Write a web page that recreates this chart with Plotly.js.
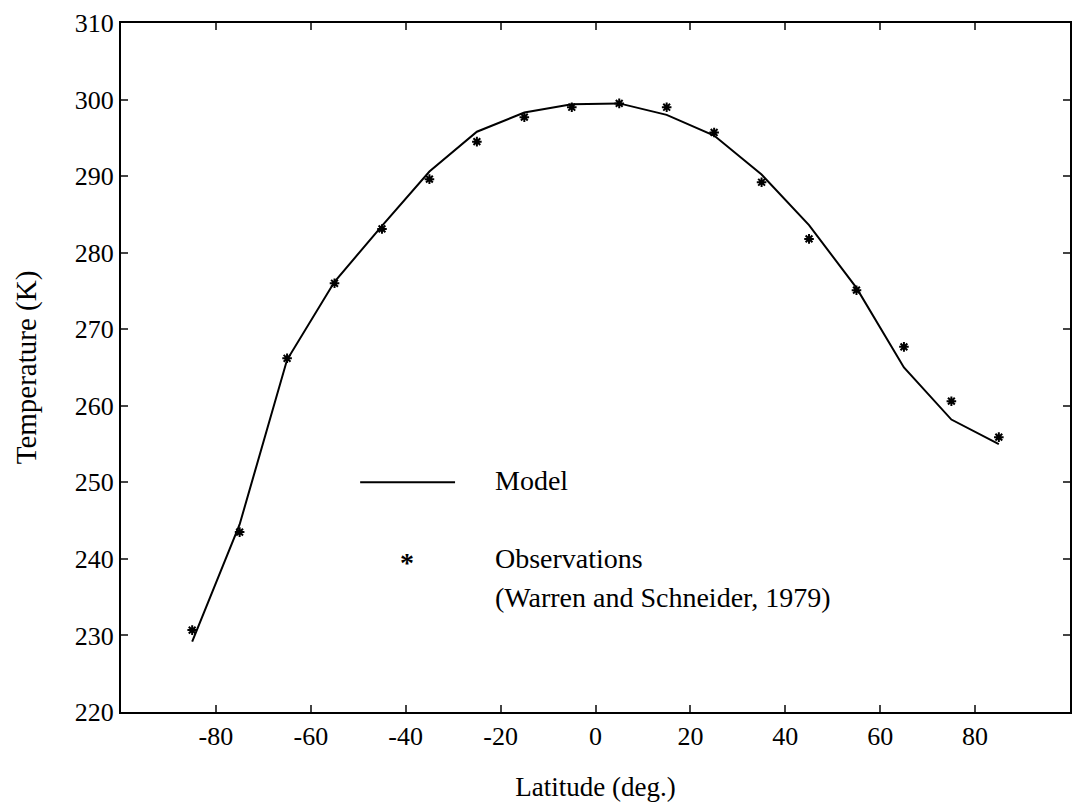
<!DOCTYPE html>
<html>
<head>
<meta charset="utf-8">
<script src="https://cdn.plot.ly/plotly-3.0.1.min.js"></script>
<style>html,body{margin:0;padding:0;background:#fff;}#chart{width:1072px;height:807px;}</style>
</head>
<body>
<div id="chart"></div>
<script>
// Latitudes (deg.)
const latitudes = [-85, -75, -65, -55, -45, -35, -25, -15, -5, 5, 15, 25, 35, 45, 55, 65, 75, 85];
// Model temperature (K)
const modelTemp = [229.2, 244.5, 266.0, 276.2, 283.5, 290.6, 295.8, 298.3, 299.4, 299.5, 298.0, 295.3, 290.2, 283.6, 275.4, 265.0, 258.2, 255.0];
// Observed temperature (K), Warren and Schneider (1979)
const obsTemp = [230.7, 243.5, 266.2, 276.0, 283.1, 289.6, 294.5, 297.7, 299.0, 299.5, 299.0, 295.7, 289.2, 281.8, 275.1, 267.7, 260.6, 255.9];

const xTicks = [-80, -60, -40, -20, 0, 20, 40, 60, 80];
const xTickLabels = ["-80", "-60", "-40", "-20", "0", "20", "40", "60", "80"];
const yTicks = [220, 230, 240, 250, 260, 270, 280, 290, 300, 310];

const legendModel = "Model";
const legendObs = "Observations";
const legendObsRef = "(Warren and Schneider, 1979)";

const font = "Liberation Serif, Times New Roman, serif";

const traces = [
  {
    x: latitudes, y: modelTemp, type: "scatter", mode: "lines",
    line: {color: "#000", width: 2}, name: legendModel, showlegend: false
  },
  {
    x: latitudes, y: obsTemp, type: "scatter", mode: "markers",
    marker: {symbol: "asterisk-open", size: 8, color: "#000", line: {color: "#000", width: 2}},
    name: legendObs, showlegend: false
  }
];

const layout = {
  width: 1072, height: 807,
  margin: {l: 121, r: 2, t: 23, b: 95},
  paper_bgcolor: "#fff", plot_bgcolor: "#fff",
  font: {family: font, color: "#000", size: 26},
  xaxis: {
    range: [-100, 100], tickvals: xTicks, ticktext: xTickLabels, ticks: "inside", ticklen: 7, tickwidth: 2,
    showline: true, linewidth: 2, linecolor: "#000", mirror: "ticks",
    showgrid: false, zeroline: false,
    tickfont: {family: font, size: 26},
    title: {text: "Latitude (deg.)", font: {family: font, size: 27}, standoff: 27}
  },
  yaxis: {
    range: [220, 310], tickvals: yTicks, ticks: "inside", ticklen: 7, tickwidth: 2,
    showline: true, linewidth: 2, linecolor: "#000", mirror: "ticks",
    showgrid: false, zeroline: false,
    tickfont: {family: font, size: 26},
    title: {text: "Temperature (K)", font: {family: font, size: 29}, standoff: 30}
  },
  shapes: [
    {type: "line", xref: "x", yref: "y", x0: -49.6, x1: -29.6, y0: 250, y1: 250, line: {color: "#000", width: 2}}
  ],
  annotations: [
    {xref: "x", yref: "y", x: -39.7, y: 240.2, text: "<b>*</b>", showarrow: false, font: {family: font, size: 28, color: "#000"}, yshift: -5},
    {xref: "x", yref: "y", x: -21.7, y: 250.3, text: legendModel, xanchor: "left", showarrow: false, font: {family: font, size: 28}},
    {xref: "x", yref: "y", x: -21.7, y: 240.0, text: legendObs, xanchor: "left", showarrow: false, font: {family: font, size: 28}},
    {xref: "x", yref: "y", x: -21.7, y: 234.9, text: legendObsRef, xanchor: "left", showarrow: false, font: {family: font, size: 28}}
  ]
};

Plotly.newPlot("chart", traces, layout, {displayModeBar: false, staticPlot: true});
</script>
</body>
</html>
